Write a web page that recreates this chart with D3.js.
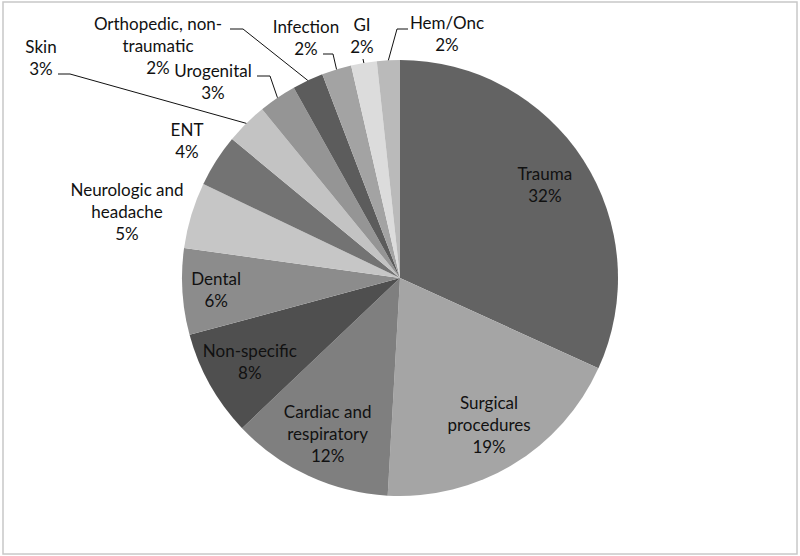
<!DOCTYPE html>
<html>
<head>
<meta charset="utf-8">
<script src="https://cdn.jsdelivr.net/npm/d3@7.9.0/dist/d3.min.js"></script>
<style>
  html, body { margin: 0; padding: 0; background: #fff; }
  svg { display: block; }
  text { font-family: Lato, "Open Sans", sans-serif; font-size: 17px; fill: #111; }
</style>
</head>
<body>
<svg id="chart" width="800" height="556"></svg>
<script>
// ======== data ========
const categories = ['Trauma', 'Surgical procedures', 'Cardiac and respiratory', 'Non-specific',
  'Dental', 'Neurologic and headache', 'ENT', 'Skin', 'Urogenital',
  'Orthopedic, non-traumatic', 'Infection', 'GI', 'Hem/Onc'];
const values = [31.8, 19.1, 12.0, 7.9, 6.4, 4.9, 3.9, 3.1, 2.8, 2.3, 2.2, 1.9, 1.7];
// label lines as they are broken in the picture
const labelLines = [
  ['Trauma'], ['Surgical', 'procedures'], ['Cardiac and', 'respiratory'], ['Non-specific'],
  ['Dental'], ['Neurologic and', 'headache'], ['ENT'], ['Skin'], ['Urogenital'],
  ['Orthopedic, non-', 'traumatic'], ['Infection'], ['GI'], ['Hem/Onc']
];
const greys = ['#636363', '#a5a5a5', '#7f7f7f', '#4f4f4f', '#8c8c8c', '#c6c6c6', '#737373',
  '#c3c3c3', '#959595', '#5c5c5c', '#a3a3a3', '#dcdcdc', '#bababa'];

// ======== layout ========
const W = 800, H = 556;
const cx = 400, cy = 278, R = 218;
const lineH = 22;

// outside labels: centre of the text block and leader end, relative to the pie centre
const outside = {
  'Neurologic and headache': { lx: -273, ly: -66 },
  'ENT': { lx: -213, ly: -137 },
  'Skin': { lx: -359, ly: -220, ex: -342, ey: -204, elbow: 12 },
  'Urogenital': { lx: -187, ly: -196, ex: -143, ey: -202, elbow: 13 },
  'Orthopedic, non-traumatic': { lx: -242, ly: -232, ex: -170, ey: -249, elbow: 13 },
  'Infection': { lx: -94, ly: -240, ex: -77, ey: -224, elbow: 10 },
  'GI': { lx: -38, ly: -242, ex: -37, ey: -219, elbow: 0 },
  'Hem/Onc': { lx: 47, ly: -244, ex: 8, ey: -249, elbow: -11 }
};
const insideRatio = { 'Dental': 0.845 };

const svg = d3.select('#chart');

// frame
svg.append('rect')
  .attr('x', 3).attr('y', 2)
  .attr('width', W - 6).attr('height', H - 4)
  .attr('fill', 'none')
  .attr('stroke', '#c8c8c8')
  .attr('stroke-width', 1.5);

const data = categories.map((c, i) => ({ name: c, value: values[i], lines: labelLines[i], color: greys[i] }));
const total = d3.sum(values);

const pie = d3.pie().value(d => d.value).sort(null);
const arcs = pie(data);
const arc = d3.arc().innerRadius(0).outerRadius(R);

const g = svg.append('g').attr('transform', `translate(${cx},${cy})`);

g.selectAll('path')
  .data(arcs)
  .enter()
  .append('path')
  .attr('d', arc)
  .attr('fill', d => d.data.color);

// leader lines
const edgePoint = d => {
  const a = (d.startAngle + d.endAngle) / 2;
  return [R * Math.sin(a), -R * Math.cos(a)];
};

g.selectAll('polyline')
  .data(arcs.filter(d => outside[d.data.name] && outside[d.data.name].ex !== undefined))
  .enter()
  .append('polyline')
  .attr('fill', 'none')
  .attr('stroke', '#111')
  .attr('stroke-width', 1)
  .attr('points', d => {
    const o = outside[d.data.name];
    const p = edgePoint(d);
    const pts = [p];
    if (o.elbow) pts.push([o.ex + o.elbow, o.ey]);
    pts.push([o.ex, o.ey]);
    return pts.map(q => q.join(',')).join(' ');
  });

// labels
const labels = g.selectAll('text.lbl')
  .data(arcs)
  .enter()
  .append('text')
  .attr('class', 'lbl')
  .attr('text-anchor', 'middle')
  .attr('transform', d => {
    const o = outside[d.data.name];
    if (o) return `translate(${o.lx},${o.ly})`;
    const rr = R * (insideRatio[d.data.name] || 0.79);
    const c = d3.arc().innerRadius(rr).outerRadius(rr).centroid(d);
    return `translate(${c[0]},${c[1]})`;
  });

labels.each(function(d) {
  const lines = d.data.lines.concat([Math.round(d.data.value / total * 100) + '%']);
  const n = lines.length;
  d3.select(this).selectAll('tspan')
    .data(lines)
    .enter()
    .append('tspan')
    .attr('x', 0)
    .attr('y', (_, i) => (i - (n - 1) / 2) * lineH)
    .attr('dy', '0.35em')
    .text(t => t);
});
</script>
</body>
</html>
